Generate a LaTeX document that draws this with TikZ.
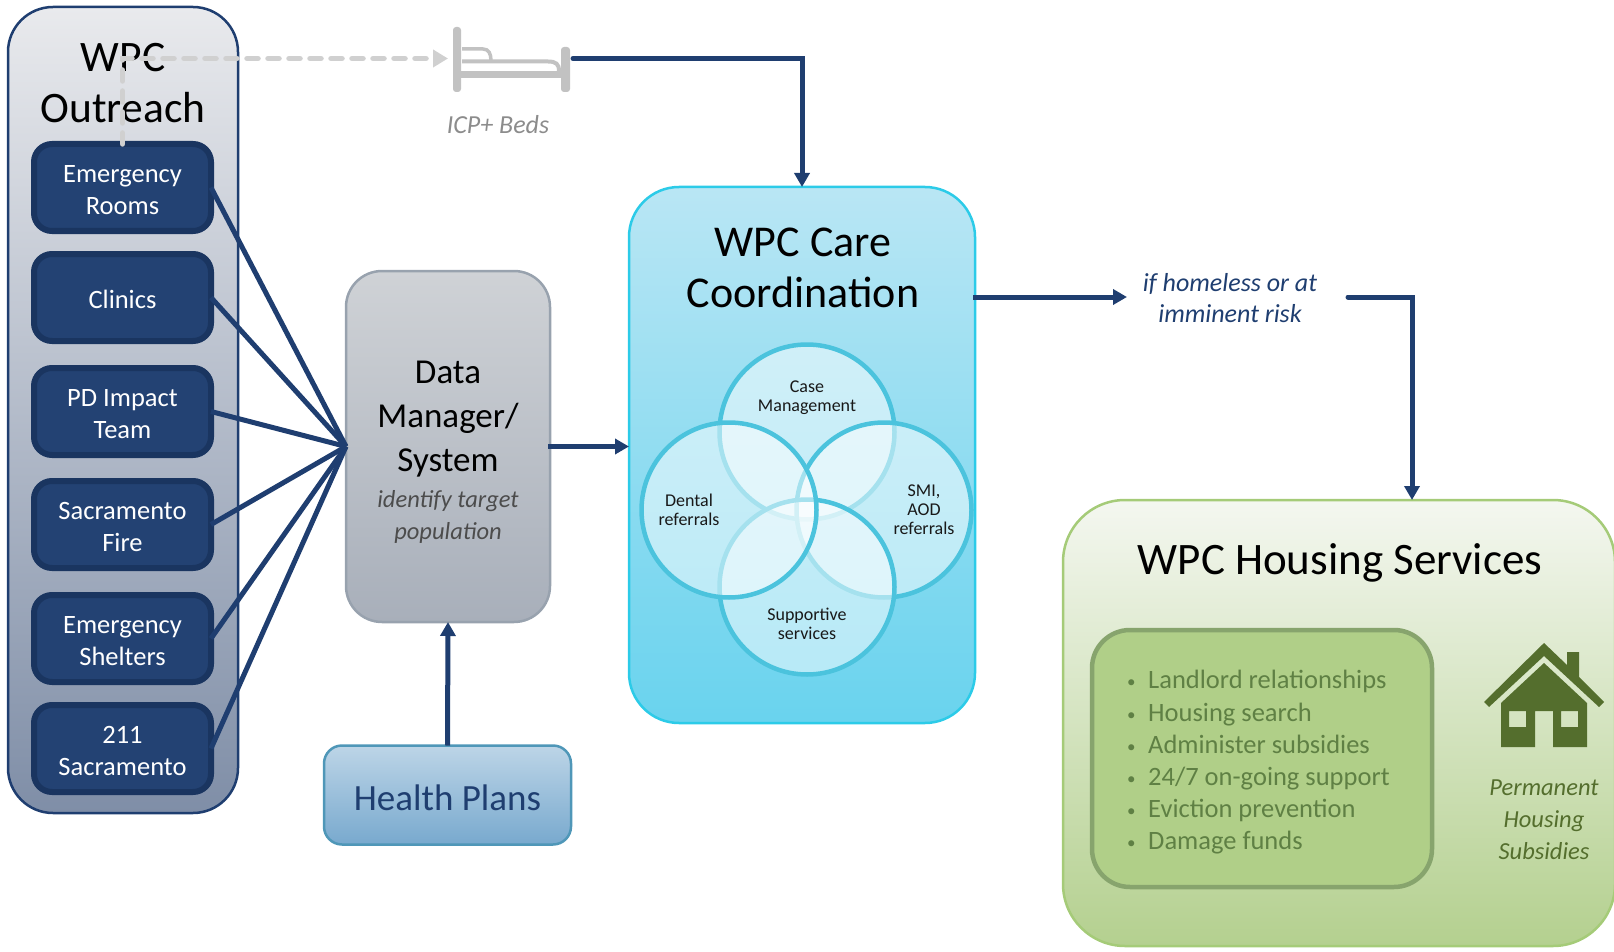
\documentclass[tikz,border=0pt]{standalone}
\usepackage{fontspec}
\setmainfont{Carlito}
\usetikzlibrary{arrows.meta}
\definecolor{navy}{HTML}{1F3E70}
\definecolor{navyfill}{HTML}{234273}
\definecolor{navyline}{HTML}{1A3560}
\definecolor{vennline}{HTML}{4BC3DD}
\definecolor{greentext}{HTML}{5F8044}
\definecolor{housegreen}{HTML}{546E2D}
\definecolor{bedgray}{HTML}{C2C2C2}
\definecolor{outtop}{HTML}{E9EAED}
\definecolor{outbot}{HTML}{7F8EA7}
\definecolor{dmtop}{HTML}{CFD2D6}
\definecolor{dmbot}{HTML}{A8AFBA}
\definecolor{dmline}{HTML}{98A2AE}
\definecolor{hptop}{HTML}{BDD5E7}
\definecolor{hpbot}{HTML}{78A9CE}
\definecolor{hpline}{HTML}{4F97B8}
\definecolor{caretop}{HTML}{B9E6F4}
\definecolor{carebot}{HTML}{69D3EE}
\definecolor{careline}{HTML}{2CCBE8}
\definecolor{houtop}{HTML}{F4F7F0}
\definecolor{houbot}{HTML}{B4D08F}
\definecolor{houline}{HTML}{A5CB78}
\definecolor{innerfill}{HTML}{B0CF88}
\definecolor{innerline}{HTML}{87A46D}
\definecolor{dashgray}{HTML}{D0D0D0}
\newcommand{\fs}[2]{\fontsize{#1pt}{#2pt}\selectfont}
\newcommand{\bul}{\makebox[21pt][l]{\raisebox{1pt}{\fontsize{17pt}{17pt}\selectfont\textbullet}}}
\newcommand{\twolines}[2]{\raisebox{-5pt}[\height][\depth]{\begin{tabular}{@{}c@{}}#1\\#2\end{tabular}}}
\tikzset{
  panel/.style={draw,anchor=center,inner sep=0pt,outer sep=0pt,rounded corners=#1},
  outreachbox/.style={panel=45pt,line width=2.5pt,draw=navy,top color=outtop,bottom color=outbot},
  source/.style={panel=18pt,line width=6pt,draw=navyline,fill=navyfill,text=white,align=center,font=\fs{26.5}{32},minimum width=177pt,minimum height=87pt},
  title/.style={align=center,inner sep=0pt,text=black},
  link/.style={navy,line width=5pt},
  linkarrow/.style={link,-{Triangle[length=14pt,width=15pt]}},
  venn/.style={circle,draw=vennline,line width=4.5pt,fill=white,fill opacity=.5,draw opacity=1,minimum size=175pt,inner sep=0pt,outer sep=0pt},
  venntext/.style={align=center,inner sep=0pt,font=\fs{18}{19},text=black!90},
  bedpart/.style={fill=bedgray,draw=none}
}
\begin{document}
\begin{tikzpicture}[x=1pt,y=-1pt]
\useasboundingbox (0,0) rectangle (1614,952);
\clip (0,0) rectangle (1614,952);
% outreach
\node[outreachbox,minimum width=230pt,minimum height=806pt] (outreach) at (123,410) {};
\node[title,font=\fs{43.5}{51}] (outtitle) at (123,83) {WPC\\Outreach};
\node[source] (er) at (122.5,187.5) {\twolines{Emergency}{Rooms}};
\node[source] (cl) at (122.5,297.5) {\raisebox{-2pt}[\height][\depth]{Clinics}};
\node[source] (pd) at (122.5,411.5) {\twolines{PD Impact}{Team}};
\node[source] (fi) at (122.5,524.5) {\twolines{Sacramento}{Fire}};
\node[source] (sh) at (122.5,638.5) {\twolines{Emergency}{Shelters}};
\node[source] (su) at (122.5,748.5) {\twolines{211}{Sacramento}};
% data manager
\node[panel=36pt,line width=2.5pt,draw=dmline,top color=dmtop,bottom color=dmbot,minimum width=204pt,minimum height=351pt] (dm) at (448,446.5) {};
\node[title,font=\fs{35}{44}] (dmtitle) at (448,419) {Data\\Manager/\\System};
\node[title,font=\fs{24.5}{32}\itshape,text=black!70] (dmsub) at (448,517) {identify target\\population};
% health plans
\node[panel=18pt,line width=2.5pt,draw=hpline,top color=hptop,bottom color=hpbot,minimum width=247pt,minimum height=99pt,text=navy] (hp) at (447.5,795) {\fs{37}{44}\raisebox{-3pt}[\height][\depth]{Health Plans}};
% care
\node[panel=50pt,line width=2.5pt,draw=careline,top color=caretop,bottom color=carebot,minimum width=346pt,minimum height=536pt] (care) at (802,455) {};
\node[title,font=\fs{44}{51}] (caretitle) at (803,268) {WPC Care\\Coordination};
\node[venn] (v1) at (807,432) {};
\node[venn] (v2) at (884,510) {};
\node[venn] (v3) at (807,587) {};
\node[venn] (v4) at (729,510) {};
\node[venntext] (t1) at (807,397.5) {Case\\Management};
\node[venntext] (t2) at (689,509.5) {Dental\\referrals};
\node[venntext] (t3) at (924,509.5) {SMI,\\AOD\\referrals};
\node[venntext] (t4) at (807,624) {Supportive\\services};
% housing
\node[panel=62pt,line width=2.5pt,draw=houline,top color=houtop,bottom color=houbot,minimum width=552pt,minimum height=446pt] (housing) at (1339,723) {};
\node[title,font=\fs{45}{51}] (houtitle) at (1340,563) {WPC Housing Services};
\node[panel=38pt,line width=4.5pt,draw=innerline,fill=innerfill,minimum width=340pt,minimum height=257pt] (inner) at (1262,758.5) {};
\node[anchor=west,align=left,inner sep=0pt,font=\fs{26.5}{32.2},text=greentext] (list) at (1127,762.5) {\bul Landlord relationships\\\bul Housing search\\\bul Administer subsidies\\\bul 24/7 on-going support\\\bul Eviction prevention\\\bul Damage funds};
\fill[housegreen] (1544,643) -- (1567,665) -- (1567,652) -- (1579,652) -- (1579,677) -- (1604,702) -- (1599,707) -- (1544,656) -- (1489,707) -- (1484,702) -- cycle;
\fill[housegreen,even odd rule] (1544,663) -- (1587,703) -- (1587,747) -- (1553,747) -- (1553,711) -- (1535,711) -- (1535,747) -- (1501,747) -- (1501,703) -- cycle
  (1509,711) rectangle (1526,727) (1561,711) rectangle (1578,727);
\node[title,font=\fs{24.5}{32}\itshape,text=housegreen] (perm) at (1544,820) {Permanent\\Housing\\Subsidies};
% bed
\node[title,font=\fs{26}{32}\itshape,text=black!45] (beds) at (498,125) {ICP+ Beds};
\fill[bedpart,rounded corners=3pt] (453,27) rectangle (461,92);
\fill[bedpart,rounded corners=3pt] (561,47) rectangle (570,92);
\fill[bedpart] (461,71) rectangle (561,78);
\draw[bedgray,line width=4pt] (462,61.5) -- (548,61.5) .. controls (556,61.5) and (559,64) .. (559,71);
\draw[bedgray,line width=3.5pt] (462,49) -- (483,49) .. controls (489,49) and (491,54) .. (491,61);
% connectors
\foreach \s in {er,cl,pd,fi,sh,su} \draw[link] (\s.east) -- (dm.west);
\coordinate (bedin) at (448,58.5);
\coordinate (bedout) at (573,58.5);
\coordinate (ifin) at (1127,297);
\coordinate (ifout) at (1348,297);
\coordinate (housein) at (1412,500);
\draw[draw=dashgray,line width=5.5pt,line cap=round,dash pattern=on 11pt off 10pt,-{Triangle[length=15pt,width=17pt,fill=dashgray]}] (er.north) -- (er.north |- bedin) -- (bedin);
\draw[linkarrow,line cap=round] (bedout) -| (care.north);
\draw[linkarrow,shorten <=-2pt] (dm.east) -- (dm.east -| care.west);
\draw[linkarrow] (hp.north) -- (dm.south);
\draw[linkarrow,shorten <=-2pt] (care.east |- ifin) -- (ifin);
\draw[linkarrow,line cap=round] (ifout) -| (housein);
\node[title,font=\fs{26}{31}\itshape,text=navy] (iftext) at (1230,298.5) {if homeless or at\\imminent risk};
\end{tikzpicture}
\end{document}
